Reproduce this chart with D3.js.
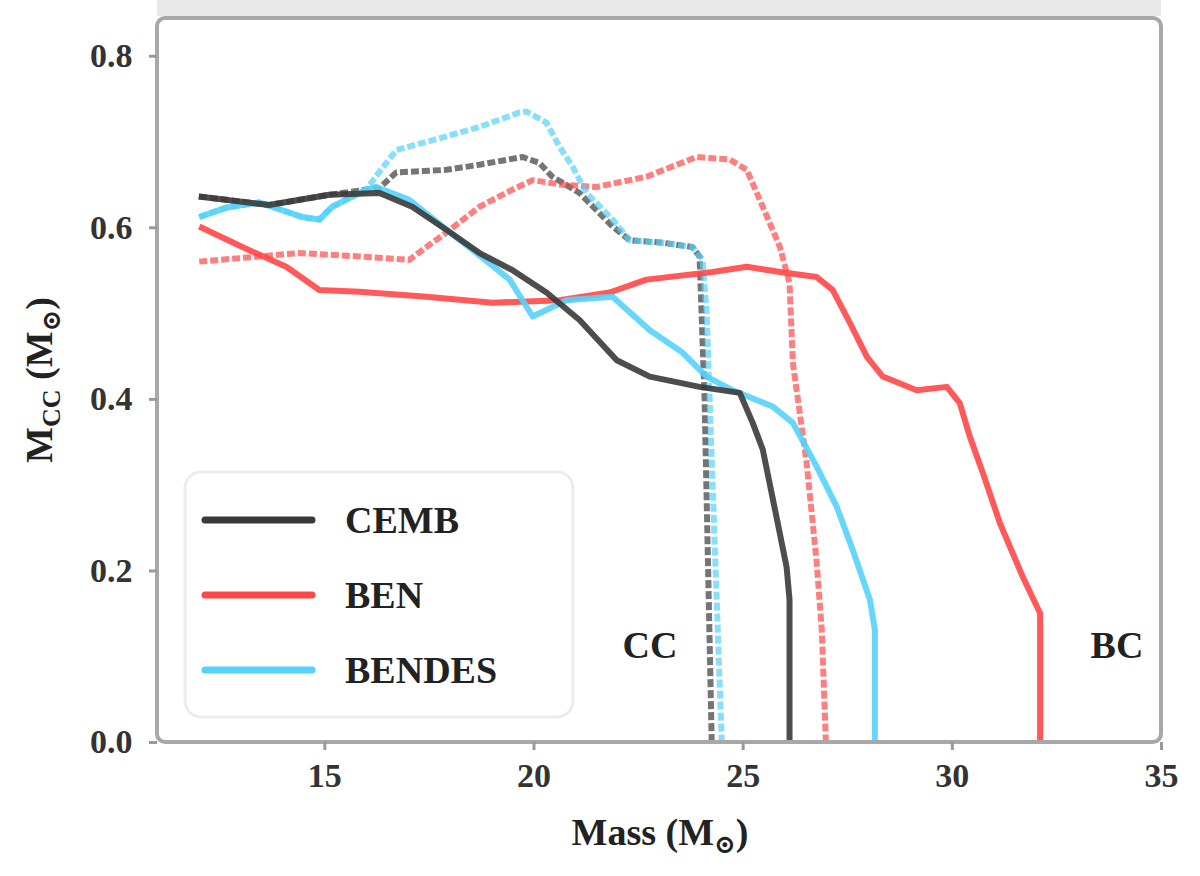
<!DOCTYPE html>
<html lang="en">
<head>
  <meta charset="UTF-8">
  <title>Core mass</title>
  <style>
    body { margin: 0; background: #fff; }
    text { font-family: "Liberation Serif", "DejaVu Serif", serif; }
  </style>
</head>
<body>
  <script src="https://cdn.jsdelivr.net/npm/d3@7"></script>
  <script>
    var width = 1200;
    var height = 876;

    // initial mass and core mass
    var cembX = [12.0, 13.68, 15.12, 16.32, 17.1, 17.92, 18.71, 19.5, 20.31, 21.1, 21.99, 22.78, 23.97, 24.93, 25.24, 25.48, 25.81, 26.05, 26.12, 26.12];
    var cembY = [0.636, 0.626, 0.638, 0.640, 0.624, 0.597, 0.570, 0.550, 0.524, 0.492, 0.445, 0.426, 0.414, 0.407, 0.372, 0.341, 0.262, 0.204, 0.166, 0];

    var cembDashX = [12.0, 13.68, 15.12, 16.32, 16.72, 17.92, 18.71, 19.74, 20.14, 20.45, 21.1, 21.89, 22.3, 23.09, 23.8, 23.97, 24.09, 24.26];
    var cembDashY = [0.636, 0.626, 0.638, 0.646, 0.664, 0.667, 0.673, 0.682, 0.675, 0.659, 0.640, 0.601, 0.585, 0.582, 0.577, 0.566, 0.399, 0];

    var benX = [12.01, 13.04, 14.09, 14.88, 15.84, 17.44, 19.02, 20.62, 21.82, 22.7, 24.28, 25.1, 25.89, 26.77, 27.15, 27.56, 27.97, 28.35, 29.16, 29.88, 30.19, 30.43, 30.74, 31.15, 31.7, 32.11, 32.11];
    var benY = [0.601, 0.577, 0.554, 0.527, 0.525, 0.519, 0.512, 0.515, 0.524, 0.539, 0.548, 0.554, 0.548, 0.542, 0.527, 0.489, 0.449, 0.426, 0.410, 0.414, 0.395, 0.356, 0.314, 0.255, 0.192, 0.150, 0];

    var benDashX = [12.01, 14.4, 15.84, 17.03, 17.58, 17.92, 18.71, 19.5, 19.98, 20.62, 21.5, 22.7, 23.9, 24.69, 25.1, 25.48, 25.89, 26.12, 26.2, 26.53, 26.77, 26.89, 26.99];
    var benDashY = [0.560, 0.570, 0.566, 0.562, 0.582, 0.594, 0.624, 0.644, 0.655, 0.650, 0.647, 0.659, 0.682, 0.679, 0.667, 0.624, 0.577, 0.535, 0.442, 0.325, 0.209, 0.131, 0];

    var bendesX = [12.01, 12.66, 13.44, 14.47, 14.88, 15.19, 16.0, 16.24, 17.03, 17.82, 18.64, 19.43, 19.98, 20.79, 21.89, 22.78, 23.56, 24.14, 24.76, 25.72, 26.2, 26.77, 27.25, 27.63, 28.04, 28.16, 28.16];
    var bendesY = [0.612, 0.623, 0.629, 0.612, 0.609, 0.624, 0.644, 0.647, 0.632, 0.601, 0.570, 0.539, 0.496, 0.515, 0.519, 0.480, 0.454, 0.426, 0.410, 0.391, 0.372, 0.321, 0.274, 0.224, 0.166, 0.131, 0];

    var bendesDashX = [12.01, 12.66, 13.44, 14.47, 14.88, 15.19, 16.0, 16.32, 16.72, 17.92, 18.71, 19.67, 19.83, 20.31, 20.62, 20.93, 21.27, 21.89, 22.3, 23.09, 23.8, 24.04, 24.14, 24.28, 24.5];
    var bendesDashY = [0.612, 0.623, 0.629, 0.612, 0.609, 0.624, 0.644, 0.665, 0.690, 0.706, 0.717, 0.734, 0.735, 0.722, 0.694, 0.671, 0.640, 0.609, 0.585, 0.582, 0.577, 0.562, 0.500, 0.302, 0];

    var xTicks = [15, 20, 25, 30, 35];
    var yTicks = [0.0, 0.2, 0.4, 0.6, 0.8];
    var legendNames = ["CEMB", "BEN", "BENDES"];
    var colors = ["#3a3a3a", "#ff4747", "#55d2fb"];

    var svg = d3.select("body")
      .append("svg")
      .attr("width", width)
      .attr("height", height);

    var pLeft = 157, pRight = 1161, pTop = 18, pBottom = 742;

    var x = d3.scaleLinear().domain([11, 35]).range([pLeft, pRight]);
    var y = d3.scaleLinear().domain([0, 0.844]).range([pBottom, pTop]);

    // grey strip above the frame
    svg.append("rect")
      .attr("x", pLeft).attr("y", 0)
      .attr("width", pRight - pLeft).attr("height", pTop - 2)
      .attr("fill", "#e8e8e8");

    var series = [
      { xs: cembDashX, ys: cembDashY, c: 0, dash: true },
      { xs: benDashX, ys: benDashY, c: 1, dash: true },
      { xs: bendesDashX, ys: bendesDashY, c: 2, dash: true },
      { xs: benX, ys: benY, c: 1, dash: false },
      { xs: bendesX, ys: bendesY, c: 2, dash: false },
      { xs: cembX, ys: cembY, c: 0, dash: false }
    ];

    var line = d3.line()
      .x(function (d) { return x(d[0]); })
      .y(function (d) { return y(d[1]); });

    svg.selectAll("path.curve")
      .data(series)
      .enter()
      .append("path")
      .attr("class", "curve")
      .attr("fill", "none")
      .attr("stroke", function (d) { return colors[d.c]; })
      .attr("stroke-width", function (d) { return d.dash ? 6 : 6; })
      .attr("stroke-opacity", function (d) { return d.dash ? 0.7 : 0.9; })
      .attr("stroke-dasharray", function (d) { return d.dash ? "8,3" : null; })
      .attr("stroke-linejoin", "round")
      .attr("d", function (d) {
        return line(d.xs.map(function (v, i) { return [v, d.ys[i]]; }));
      });

    // frame
    svg.append("rect")
      .attr("x", pLeft).attr("y", pTop)
      .attr("width", pRight - pLeft).attr("height", pBottom - pTop)
      .attr("rx", 8)
      .attr("fill", "none")
      .attr("stroke", "#a8a8a8")
      .attr("stroke-width", 4);

    var xAxis = d3.axisBottom(x).tickValues(xTicks).tickSize(8).tickFormat(d3.format("d"));
    var gx = svg.append("g")
      .attr("transform", "translate(0," + pBottom + ")")
      .call(xAxis);
    var yAxis = d3.axisLeft(y).tickValues(yTicks).tickSize(8).tickFormat(d3.format(".1f"));
    var gy = svg.append("g")
      .attr("transform", "translate(" + pLeft + ",0)")
      .call(yAxis);

    [gx, gy].forEach(function (g) {
      g.select(".domain").remove();
      g.selectAll(".tick line").attr("stroke", "#999").attr("stroke-width", 3);
      g.selectAll(".tick text")
        .attr("fill", "#333")
        .style("font-family", "Liberation Serif")
        .style("font-weight", "bold")
        .style("font-size", "34px");
    });
    gx.selectAll(".tick text").attr("dy", "1.0em");
    gy.selectAll(".tick text").attr("dx", "-0.4em");

    // axis titles
    var xt = svg.append("text")
      .attr("x", 660).attr("y", 845)
      .attr("text-anchor", "middle")
      .attr("fill", "#222")
      .style("font-size", "38px").style("font-weight", "bold");
    xt.append("tspan").text("Mass (M");
    xt.append("tspan").attr("dy", 8).style("font-size", "26px").text("\u2299");
    xt.append("tspan").attr("dy", -8).text(")");

    var yt = svg.append("text")
      .attr("transform", "translate(52,380) rotate(-90)")
      .attr("text-anchor", "middle")
      .attr("fill", "#222")
      .style("font-size", "38px").style("font-weight", "bold");
    yt.append("tspan").text("M");
    yt.append("tspan").attr("dy", 8).style("font-size", "26px").text("CC");
    yt.append("tspan").attr("dy", -8).text(" (M");
    yt.append("tspan").attr("dy", 8).style("font-size", "26px").text("\u2299");
    yt.append("tspan").attr("dy", -8).text(")");

    // region labels
    svg.append("text").attr("x", 650).attr("y", 658).attr("text-anchor", "middle")
      .attr("fill", "#222").style("font-size", "38px").style("font-weight", "bold").text("CC");
    svg.append("text").attr("x", 1117).attr("y", 658).attr("text-anchor", "middle")
      .attr("fill", "#222").style("font-size", "38px").style("font-weight", "bold").text("BC");

    // legend
    var lg = svg.append("g");
    lg.append("rect")
      .attr("x", 185).attr("y", 472)
      .attr("width", 388).attr("height", 245)
      .attr("rx", 16)
      .attr("fill", "#fff")
      .attr("fill-opacity", 0.85)
      .attr("stroke", "#ececec")
      .attr("stroke-width", 3);
    var items = lg.selectAll("g.item")
      .data(legendNames)
      .enter()
      .append("g")
      .attr("class", "item")
      .attr("transform", function (d, i) { return "translate(0," + (520 + i * 75) + ")"; });
    items.append("line")
      .attr("x1", 205).attr("x2", 312)
      .attr("stroke", function (d, i) { return colors[i]; })
      .attr("stroke-width", 7)
      .attr("stroke-linecap", "round");
    items.append("text")
      .attr("x", 345).attr("y", 13)
      .attr("fill", "#222")
      .style("font-size", "38px").style("font-weight", "bold")
      .text(function (d) { return d; });
  </script>
</body>
</html>
